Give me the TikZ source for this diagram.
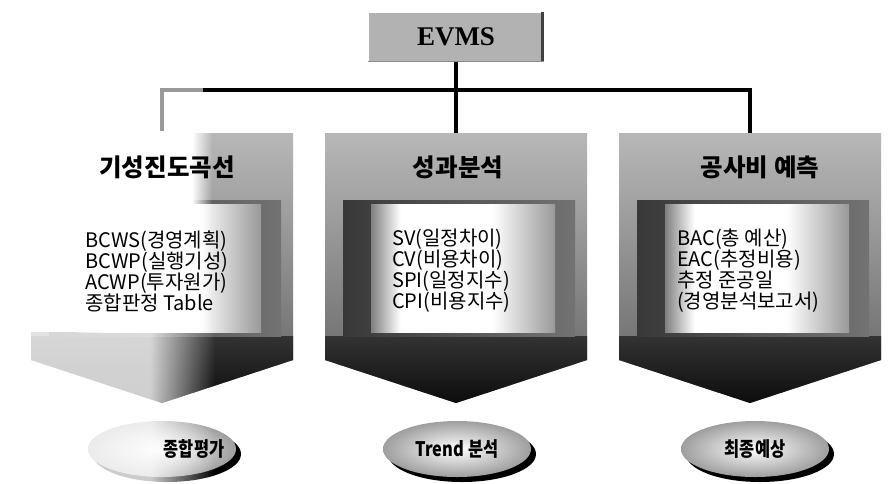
\documentclass[tikz,border=0pt]{standalone}
\usepackage{fontspec}
\setmainfont{Noto Sans CJK KR}
\newfontfamily\evmsfont{Liberation Serif}
\newfontfamily\condfont[FakeStretch=0.82]{Noto Sans CJK KR}
\usetikzlibrary{shapes.geometric,shadows,calc,fadings}

\tikzfading[name=washright, left color=transparent!0, right color=transparent!100]
\pgfdeclarehorizontalshading{screen}{100bp}{color(0bp)=(black!50); color(25bp)=(black!50); color(33bp)=(white); color(58bp)=(white); color(75bp)=(black!40); color(100bp)=(black!40)}

\begin{document}
\begin{tikzpicture}[
    x=1pt, y=-1pt,
    evmsbox/.style={rectangle, fill=black!30, minimum width=175pt, minimum height=49pt, inner sep=0pt, font=\evmsfont\bfseries\fontsize{27}{30}\selectfont},
    panel/.style={rectangle, minimum width=262pt, minimum height=227pt, inner sep=0pt, outer sep=0pt},
    paneltitle/.style={inner sep=0pt, font=\bfseries\fontsize{24.5}{27}\selectfont},
    items/.style={anchor=west, align=left, inner sep=0pt, font=\fontsize{20}{21}\selectfont},
    disc/.style={ellipse, minimum width=148pt, minimum height=56pt, inner sep=0pt, inner color=white, outer color=black!38, drop shadow={shadow xshift=5pt, shadow yshift=-5pt, fill=black, opacity=1}},
    evallabel/.style={inner sep=0pt, font=\condfont\bfseries\fontsize{20}{22}\selectfont},
    link/.style={line width=4.5pt}
]
    \useasboundingbox (0,0) rectangle (893,483);
    \fill[white] (0,0) rectangle (893,483);

    \node[evmsbox] (evms) at (456,37) {EVMS};
    \node[panel] (curve) at (162,246.5) {};
    \node[panel] (analysis) at (456,246.5) {};
    \node[panel] (forecast) at (750,246.5) {};
    \coordinate (bus) at (456,90);

    \draw[link] (evms.south) -- (analysis.north);
    \draw[link] (curve.north) |- (bus) -| (forecast.north);

    \draw[black!75, line width=2.5pt] ([xshift=-1pt]evms.north east) -- ([xshift=-1pt]evms.south east);
    \draw[black!45, line width=1.5pt] (evms.south west) -- (evms.south east);

    % panel bodies
    \foreach \p in {curve,analysis,forecast}{
        \coordinate (\p tip) at ($(\p.south)+(0,43)$);
        \shade[top color=black!28, bottom color=black!62] (\p.north west) -- (\p.north east) -- (\p.south east) -- (\p tip) -- (\p.south west) -- cycle;
        \shade[top color=black!80, bottom color=black!95] ($(\p.south west)+(0,-24)$) -- ($(\p.south east)+(0,-24)$) -- (\p.south east) -- (\p tip) -- (\p.south west) -- cycle;
        \shade[left color=black!78, right color=black!55] ($(\p.north west)+(18,67)$) rectangle ($(\p.south east)+(-12,-24)$);
        \shade[shading=screen] ($(\p.north west)+(46,71)$) rectangle ($(\p.south east)+(-32,-28)$);
    }

    \node[disc] (curvedisc) at (162,449) {};
    \node[disc] (analysisdisc) at (457,449) {};
    \node[disc] (forecastdisc) at (755,449) {};

    % faded left column
    \fill[white, fill opacity=0.6] (20,70) rectangle (203,131);
    \fill[white] (20,131) rectangle (192,332);
    \fill[white, path fading=washright] (192,131) rectangle (212,332);
    \fill[white, fill opacity=0.8] (20,332) rectangle (150,483);
    \fill[white, fill opacity=0.8, path fading=washright] (150,332) rectangle (215,483);

    \node[paneltitle] (curvetitle) at (167,167) {기성진도곡선};
    \node[paneltitle] (analysistitle) at (458,167) {성과분석};
    \node[paneltitle] (forecasttitle) at (760,167) {공사비 예측};

    \node[items] (curveitems) at (85,271) {BCWS(경영계획)\\BCWP(실행기성)\\ACWP(투자원가)\\종합판정 Table};
    \node[items] (analysisitems) at (392,271) {SV(일정차이)\\CV(비용차이)\\SPI(일정지수)\\CPI(비용지수)};
    \node[items] (forecastitems) at (677,271) {BAC(총 예산)\\EAC(추정비용)\\추정 준공일\\(경영분석보고서)};

    \node[evallabel] (curveeval) at (194,449) {종합평가};
    \node[evallabel] (analysiseval) at (457,449) {Trend 분석};
    \node[evallabel] (forecasteval) at (755,449) {최종예상};
\end{tikzpicture}
\end{document}
